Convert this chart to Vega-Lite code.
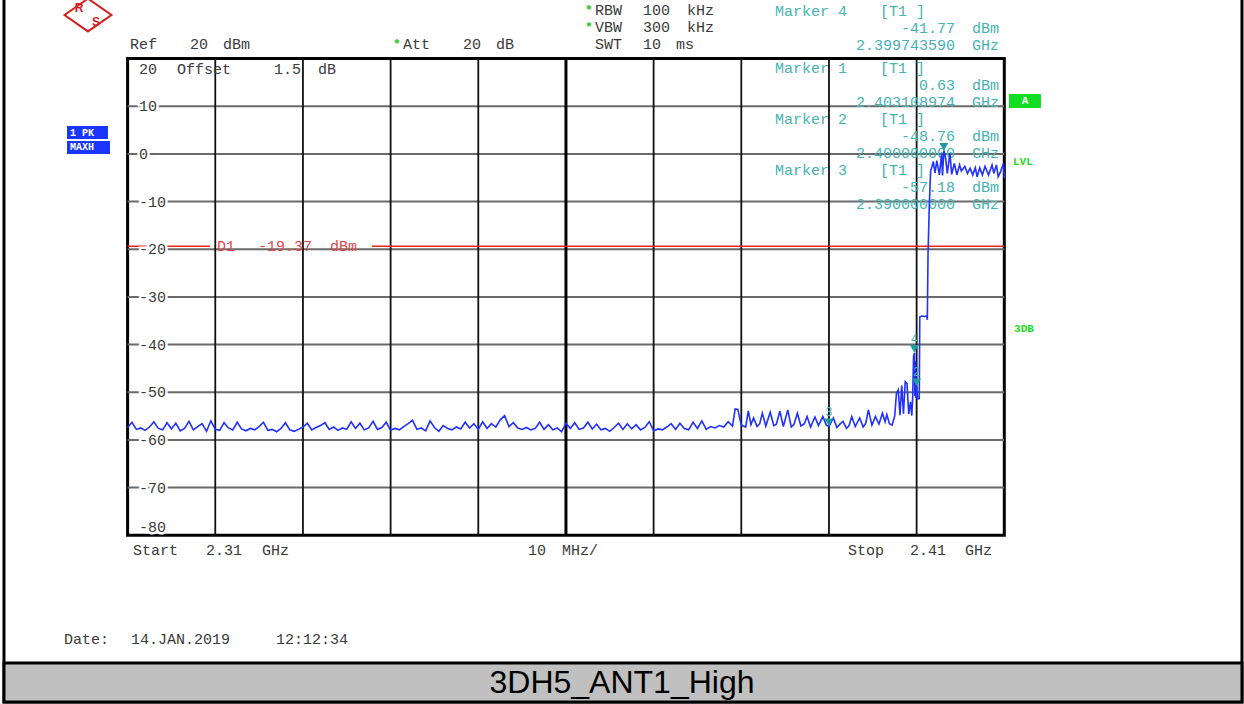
{
"$schema": "https://vega.github.io/schema/vega-lite/v6.json",
"width": 876.7, "height": 476.6,
"autosize": {"type": "none"},
"padding": {"left": 127.6, "top": 58.6, "right": 239.7, "bottom": 168.8},
"background": "white",
"config": {
  "view": {"stroke": "#000000", "strokeWidth": 3},
  "text": {"font": "Liberation Mono", "fontSize": 15, "baseline": "middle", "align": "left"}
},
"encoding": {
  "x": {"field": "f", "type": "quantitative", "scale": {"domain": [2310, 2410], "nice": false, "zero": false}, "axis": null},
  "y": {"field": "p", "type": "quantitative", "scale": {"domain": [-80, 20], "nice": false, "zero": false}, "axis": null}
},
"datasets": {
  "frame": [{"f": 2295.9, "f2": 2437.11, "p": -115.0, "p2": 34}],
  "band": [{"f": 2295.9, "f2": 2437.11, "p": -115.0, "p2": -106.81}],
  "caption": [{"t": "3DH5_ANT1_High", "f": 2366.39, "p": -111.0}],
  "hgrid": [{"f": 2310, "f2": 2410, "p": 10}, {"f": 2310, "f2": 2410, "p": 0}, {"f": 2310, "f2": 2410, "p": -10}, {"f": 2310, "f2": 2410, "p": -20}, {"f": 2310, "f2": 2410, "p": -30}, {"f": 2310, "f2": 2410, "p": -40}, {"f": 2310, "f2": 2410, "p": -50}, {"f": 2310, "f2": 2410, "p": -60}, {"f": 2310, "f2": 2410, "p": -70}],
  "vgrid": [{"f": 2320, "p": -80, "p2": 20}, {"f": 2330, "p": -80, "p2": 20}, {"f": 2340, "p": -80, "p2": 20}, {"f": 2350, "p": -80, "p2": 20}, {"f": 2370, "p": -80, "p2": 20}, {"f": 2380, "p": -80, "p2": 20}, {"f": 2390, "p": -80, "p2": 20}, {"f": 2400, "p": -80, "p2": 20}],
  "vcenter": [{"f": 2360, "p": -80, "p2": 20}],
  "d1line": [{"f": 2310, "f2": 2319.4, "p": -19.37}, {"f": 2337.88, "f2": 2410, "p": -19.37}],
  "d1text": [{"t": "D1", "f": 2320.19, "p": -19.37}, {"t": "-19.37", "f": 2324.87, "p": -19.37}, {"t": "dBm", "f": 2333.09, "p": -19.37}],
  "ylab": [{"t": "20", "f": 2311.3, "p": 17.82}, {"t": "10", "f": 2311.3, "p": 10}, {"t": "0", "f": 2311.3, "p": 0}, {"t": "-10", "f": 2311.3, "p": -10}, {"t": "-20", "f": 2311.3, "p": -20}, {"t": "-30", "f": 2311.3, "p": -30}, {"t": "-40", "f": 2311.3, "p": -40}, {"t": "-50", "f": 2311.3, "p": -50}, {"t": "-60", "f": 2311.3, "p": -60}, {"t": "-70", "f": 2311.3, "p": -70}, {"t": "-80", "f": 2311.3, "p": -78.28}],
  "hdr": [
    {"t": "Ref", "f": 2310.27, "p": 23.06}, {"t": "20", "f": 2317.12, "p": 23.06}, {"t": "dBm", "f": 2320.88, "p": 23.06},
    {"t": "Att", "f": 2341.41, "p": 23.06}, {"t": "20", "f": 2348.26, "p": 23.06}, {"t": "dB", "f": 2352.02, "p": 23.06},
    {"t": "RBW", "f": 2363.31, "p": 30.2}, {"t": "100", "f": 2368.79, "p": 30.2}, {"t": "kHz", "f": 2373.81, "p": 30.2},
    {"t": "VBW", "f": 2363.31, "p": 26.63}, {"t": "300", "f": 2368.79, "p": 26.63}, {"t": "kHz", "f": 2373.81, "p": 26.63},
    {"t": "SWT", "f": 2363.31, "p": 23.06}, {"t": "10", "f": 2368.79, "p": 23.06}, {"t": "ms", "f": 2372.55, "p": 23.06},
    {"t": "Offset", "f": 2315.63, "p": 17.82}, {"t": "1.5", "f": 2326.7, "p": 17.82}, {"t": "dB", "f": 2331.72, "p": 17.82},
    {"t": "Start", "f": 2310.62, "p": -83.1}, {"t": "2.31", "f": 2318.94, "p": -83.1}, {"t": "GHz", "f": 2325.33, "p": -83.1},
    {"t": "10", "f": 2355.67, "p": -83.1}, {"t": "MHz/", "f": 2359.55, "p": -83.1},
    {"t": "Stop", "f": 2392.17, "p": -83.1}, {"t": "2.41", "f": 2399.24, "p": -83.1}, {"t": "GHz", "f": 2405.52, "p": -83.1},
    {"t": "Date:", "f": 2302.75, "p": -101.78}, {"t": "14.JAN.2019", "f": 2310.39, "p": -101.78}, {"t": "12:12:34", "f": 2326.93, "p": -101.78}
  ],
  "stars": [{"t": "*", "f": 2362.17, "p": 30.2}, {"t": "*", "f": 2362.17, "p": 26.63}, {"t": "*", "f": 2340.27, "p": 23.06}],
  "tealL": [
    {"t": "Marker 4", "f": 2383.85, "p": 29.99}, {"t": "[T1 ]", "f": 2395.82, "p": 29.99},
    {"t": "Marker 1", "f": 2383.85, "p": 18.03}, {"t": "[T1 ]", "f": 2395.82, "p": 18.03},
    {"t": "Marker 2", "f": 2383.85, "p": 7.33}, {"t": "[T1 ]", "f": 2395.82, "p": 7.33},
    {"t": "Marker 3", "f": 2383.85, "p": -3.37}, {"t": "[T1 ]", "f": 2395.82, "p": -3.37}
  ],
  "tealR": [
    {"t": "-41.77", "f": 2404.38, "p": 26.42}, {"t": "dBm", "f": 2409.4, "p": 26.42},
    {"t": "2.399743590", "f": 2404.38, "p": 22.85}, {"t": "GHz", "f": 2409.4, "p": 22.85},
    {"t": "0.63", "f": 2404.38, "p": 14.46}, {"t": "dBm", "f": 2409.4, "p": 14.46},
    {"t": "2.403108974", "f": 2404.38, "p": 10.89}, {"t": "GHz", "f": 2409.4, "p": 10.89},
    {"t": "-48.76", "f": 2404.38, "p": 3.76}, {"t": "dBm", "f": 2409.4, "p": 3.76},
    {"t": "2.400000000", "f": 2404.38, "p": 0.19}, {"t": "GHz", "f": 2409.4, "p": 0.19},
    {"t": "-57.18", "f": 2404.38, "p": -6.94}, {"t": "dBm", "f": 2409.4, "p": -6.94},
    {"t": "2.390000000", "f": 2404.38, "p": -10.51}, {"t": "GHz", "f": 2409.4, "p": -10.51}
  ],
  "greenTxt": [{"t": "LVL", "f": 2410.99, "p": -1.7}, {"t": "3DB", "f": 2411.11, "p": -36.74}],
  "abox": [{"f": 2410.53, "f2": 2414.18, "p": 12.57, "p2": 9.63}],
  "atext": [{"t": "A", "f": 2412.36, "p": 11.1}],
  "bbox": [{"f": 2303.09, "f2": 2307.76, "p": 5.86, "p2": 3.13}, {"f": 2303.09, "f2": 2307.99, "p": 2.71, "p2": -0.02}],
  "btext": [{"t": "1 PK", "f": 2303.43, "p": 4.49}, {"t": "MAXH", "f": 2303.43, "p": 1.35}],
  "logo": [{"f": 2305.48, "p": 29.15}],
  "logotext": [{"t": "R", "f": 2304.46, "p": 30.62}, {"t": "S", "f": 2306.4, "p": 27.68}],
  "markers": [{"m": "1", "f": 2403.109, "p": 0.63}, {"m": "2", "f": 2400.0, "p": -48.76}, {"m": "3", "f": 2390.0, "p": -57.18}, {"m": "4", "f": 2399.744, "p": -41.77}],
  "trace": [
    {"f":2310.0,"p":-57.4},{"f":2310.5,"p":-56.3},{"f":2311.0,"p":-57.8},{"f":2311.5,"p":-57.5},{"f":2312.0,"p":-58.0},{"f":2312.5,"p":-57.3},
    {"f":2313.0,"p":-56.2},{"f":2313.5,"p":-57.6},{"f":2314.0,"p":-57.9},{"f":2314.5,"p":-56.4},{"f":2315.0,"p":-57.7},{"f":2315.5,"p":-56.5},
    {"f":2316.0,"p":-58.1},{"f":2316.5,"p":-57.6},{"f":2317.0,"p":-56.1},{"f":2317.5,"p":-57.9},{"f":2318.0,"p":-57.2},{"f":2318.5,"p":-56.6},
    {"f":2319.0,"p":-58.2},{"f":2319.5,"p":-56.0},{"f":2320.0,"p":-57.8},{"f":2320.5,"p":-58.0},{"f":2321.0,"p":-56.4},{"f":2321.5,"p":-57.5},
    {"f":2322.0,"p":-57.9},{"f":2322.5,"p":-56.3},{"f":2323.0,"p":-57.7},{"f":2323.5,"p":-58.1},{"f":2324.0,"p":-57.6},{"f":2324.5,"p":-57.9},
    {"f":2325.0,"p":-57.2},{"f":2325.5,"p":-56.3},{"f":2326.0,"p":-58.0},{"f":2326.5,"p":-57.8},{"f":2327.0,"p":-58.3},{"f":2327.5,"p":-57.6},
    {"f":2328.0,"p":-56.4},{"f":2328.5,"p":-57.9},{"f":2329.0,"p":-58.2},{"f":2329.5,"p":-57.8},{"f":2330.0,"p":-57.3},{"f":2330.5,"p":-56.5},
    {"f":2331.0,"p":-57.9},{"f":2331.5,"p":-57.4},{"f":2332.0,"p":-57.0},{"f":2332.5,"p":-56.4},{"f":2333.0,"p":-57.8},{"f":2333.5,"p":-57.3},
    {"f":2334.0,"p":-58.0},{"f":2334.5,"p":-57.5},{"f":2335.0,"p":-57.8},{"f":2335.5,"p":-56.2},{"f":2336.0,"p":-57.6},{"f":2336.5,"p":-56.5},
    {"f":2337.0,"p":-57.9},{"f":2337.5,"p":-57.5},{"f":2338.0,"p":-56.1},{"f":2338.5,"p":-57.8},{"f":2339.0,"p":-57.4},{"f":2339.5,"p":-56.3},
    {"f":2340.0,"p":-58.0},{"f":2340.5,"p":-57.6},{"f":2341.0,"p":-57.9},{"f":2341.5,"p":-57.2},{"f":2342.0,"p":-56.6},{"f":2342.5,"p":-55.9},
    {"f":2343.0,"p":-57.8},{"f":2343.5,"p":-57.5},{"f":2344.0,"p":-58.1},{"f":2344.5,"p":-56.0},{"f":2345.0,"p":-57.4},{"f":2345.5,"p":-58.2},
    {"f":2346.0,"p":-57.0},{"f":2346.5,"p":-57.6},{"f":2347.0,"p":-57.9},{"f":2347.5,"p":-57.3},{"f":2348.0,"p":-57.7},{"f":2348.5,"p":-56.3},
    {"f":2349.0,"p":-57.5},{"f":2349.5,"p":-56.6},{"f":2350.0,"p":-57.8},{"f":2350.5,"p":-56.2},{"f":2351.0,"p":-57.6},{"f":2351.5,"p":-56.6},
    {"f":2352.0,"p":-57.3},{"f":2352.5,"p":-55.8},{"f":2353.0,"p":-54.9},{"f":2353.5,"p":-57.2},{"f":2354.0,"p":-56.4},{"f":2354.5,"p":-57.5},
    {"f":2355.0,"p":-57.8},{"f":2355.5,"p":-57.4},{"f":2356.0,"p":-57.9},{"f":2356.5,"p":-57.6},{"f":2357.0,"p":-56.3},{"f":2357.5,"p":-57.8},
    {"f":2358.0,"p":-56.8},{"f":2358.5,"p":-57.9},{"f":2359.0,"p":-57.5},{"f":2359.5,"p":-58.3},{"f":2360.0,"p":-56.5},{"f":2360.5,"p":-57.6},
    {"f":2361.0,"p":-56.4},{"f":2361.5,"p":-57.8},{"f":2362.0,"p":-57.5},{"f":2362.5,"p":-56.3},{"f":2363.0,"p":-57.7},{"f":2363.5,"p":-56.7},
    {"f":2364.0,"p":-57.9},{"f":2364.5,"p":-57.6},{"f":2365.0,"p":-58.2},{"f":2365.5,"p":-57.4},{"f":2366.0,"p":-56.5},{"f":2366.5,"p":-57.8},
    {"f":2367.0,"p":-56.6},{"f":2367.5,"p":-57.7},{"f":2368.0,"p":-56.8},{"f":2368.5,"p":-57.9},{"f":2369.0,"p":-57.4},{"f":2369.5,"p":-56.2},
    {"f":2370.0,"p":-58.1},{"f":2370.5,"p":-57.7},{"f":2371.0,"p":-57.9},{"f":2371.5,"p":-57.3},{"f":2372.0,"p":-56.6},{"f":2372.5,"p":-57.8},
    {"f":2373.0,"p":-56.5},{"f":2373.5,"p":-57.6},{"f":2374.0,"p":-57.9},{"f":2374.5,"p":-56.3},{"f":2375.0,"p":-57.6},{"f":2375.5,"p":-56.0},
    {"f":2376.0,"p":-57.8},{"f":2376.5,"p":-57.2},{"f":2377.0,"p":-57.5},{"f":2377.5,"p":-57.0},{"f":2378.0,"p":-57.3},{"f":2378.5,"p":-56.2},
    {"f":2379.0,"p":-57.1},{"f":2379.3,"p":-53.5},{"f":2379.6,"p":-53.6},{"f":2380.0,"p":-56.9},{"f":2380.5,"p":-57.3},{"f":2380.8,"p":-53.9},
    {"f":2381.1,"p":-56.8},{"f":2381.4,"p":-55.4},{"f":2381.8,"p":-57.2},{"f":2382.1,"p":-56.6},{"f":2382.4,"p":-54.4},{"f":2382.8,"p":-57.1},
    {"f":2383.3,"p":-54.2},{"f":2383.7,"p":-57.0},{"f":2384.0,"p":-56.7},{"f":2384.4,"p":-54.0},{"f":2384.8,"p":-57.2},{"f":2385.3,"p":-53.7},
    {"f":2385.7,"p":-57.3},{"f":2386.0,"p":-56.8},{"f":2386.4,"p":-54.4},{"f":2386.8,"p":-57.1},{"f":2387.2,"p":-56.6},{"f":2387.5,"p":-55.1},
    {"f":2387.9,"p":-57.3},{"f":2388.4,"p":-55.2},{"f":2388.8,"p":-57.0},{"f":2389.3,"p":-55.1},{"f":2389.7,"p":-56.9},{"f":2390.0,"p":-57.18},
    {"f":2390.5,"p":-55.4},{"f":2390.9,"p":-57.4},{"f":2391.2,"p":-56.8},{"f":2391.6,"p":-56.1},{"f":2392.0,"p":-57.6},{"f":2392.3,"p":-57.0},
    {"f":2392.6,"p":-55.1},{"f":2393.0,"p":-57.2},{"f":2393.5,"p":-55.4},{"f":2393.9,"p":-57.3},{"f":2394.2,"p":-56.5},{"f":2394.5,"p":-53.7},
    {"f":2394.9,"p":-56.9},{"f":2395.3,"p":-55.1},{"f":2395.7,"p":-56.7},{"f":2396.1,"p":-54.4},{"f":2396.4,"p":-56.2},{"f":2396.6,"p":-54.7},
    {"f":2396.9,"p":-56.6},{"f":2397.2,"p":-56.9},{"f":2397.5,"p":-55.0},{"f":2397.7,"p":-50.2},{"f":2397.9,"p":-49.5},{"f":2398.1,"p":-54.8},
    {"f":2398.3,"p":-48.6},{"f":2398.5,"p":-54.5},{"f":2398.7,"p":-47.8},{"f":2398.9,"p":-48.2},{"f":2399.1,"p":-54.6},{"f":2399.3,"p":-52.0},
    {"f":2399.45,"p":-54.9},{"f":2399.55,"p":-51.0},{"f":2399.65,"p":-42.5},{"f":2399.744,"p":-41.77},{"f":2399.8,"p":-50.8},{"f":2399.87,"p":-43.5},
    {"f":2399.93,"p":-51.2},{"f":2400.0,"p":-48.76},{"f":2400.1,"p":-51.3},{"f":2400.2,"p":-51.4},{"f":2400.3,"p":-51.3},{"f":2400.36,"p":-34.2},
    {"f":2400.6,"p":-34.0},{"f":2400.9,"p":-34.1},{"f":2401.15,"p":-34.0},{"f":2401.22,"p":-34.8},{"f":2401.3,"p":-21.0},{"f":2401.45,"p":-10.5},
    {"f":2401.6,"p":-3.5},{"f":2401.75,"p":-2.7},{"f":2401.9,"p":-1.6},{"f":2402.1,"p":-4.0},{"f":2402.3,"p":-1.4},{"f":2402.6,"p":-4.4},
    {"f":2402.85,"p":0.1},{"f":2402.95,"p":-4.5},{"f":2403.109,"p":0.63},{"f":2403.3,"p":-0.8},{"f":2403.5,"p":-4.1},{"f":2403.8,"p":0.1},
    {"f":2404.0,"p":-4.3},{"f":2404.3,"p":-2.0},{"f":2404.6,"p":-4.4},{"f":2404.9,"p":-2.3},{"f":2405.1,"p":-3.6},{"f":2405.5,"p":-2.6},
    {"f":2405.8,"p":-4.1},{"f":2406.1,"p":-3.0},{"f":2406.4,"p":-4.4},{"f":2406.7,"p":-2.9},{"f":2406.9,"p":-4.8},{"f":2407.2,"p":-2.9},
    {"f":2407.5,"p":-4.4},{"f":2407.8,"p":-2.6},{"f":2408.2,"p":-4.4},{"f":2408.6,"p":-2.3},{"f":2408.8,"p":-4.1},{"f":2409.1,"p":-2.3},
    {"f":2409.3,"p":-4.8},{"f":2409.6,"p":-3.6},{"f":2409.9,"p":-2.0},{"f":2410.0,"p":-5.1}
  ]
},
"layer": [
  {"data": {"name": "frame"}, "mark": {"type": "rect", "fill": null, "fillOpacity": 0, "stroke": "#000000", "strokeWidth": 3},
   "encoding": {"x2": {"field": "f2"}, "y2": {"field": "p2"}}},
  {"data": {"name": "band"}, "mark": {"type": "rect", "fill": "#c0c0c0", "stroke": "#000000", "strokeWidth": 3},
   "encoding": {"x2": {"field": "f2"}, "y2": {"field": "p2"}}},
  {"data": {"name": "caption"}, "mark": {"type": "text", "font": "Liberation Sans", "fontSize": 32, "align": "center", "color": "#000000"},
   "encoding": {"text": {"field": "t"}}},
  {"data": {"name": "hgrid"}, "mark": {"type": "rule", "color": "#6a6a6a", "strokeWidth": 2},
   "encoding": {"x2": {"field": "f2"}}},
  {"data": {"name": "vgrid"}, "mark": {"type": "rule", "color": "#111111", "strokeWidth": 1.8},
   "encoding": {"y2": {"field": "p2"}}},
  {"data": {"name": "vcenter"}, "mark": {"type": "rule", "color": "#000000", "strokeWidth": 3},
   "encoding": {"y2": {"field": "p2"}}},
  {"data": {"name": "d1line"}, "mark": {"type": "rule", "color": "#ee2222", "strokeWidth": 1.6},
   "encoding": {"x2": {"field": "f2"}}},
  {"data": {"name": "d1text"}, "mark": {"type": "text", "color": "#e04848"},
   "encoding": {"text": {"field": "t"}}},
  {"data": {"name": "ylab"}, "mark": {"type": "text", "color": "#ffffff", "stroke": "#ffffff", "strokeWidth": 5},
   "encoding": {"text": {"field": "t"}}},
  {"data": {"name": "ylab"}, "mark": {"type": "text", "color": "#3a3a3a"},
   "encoding": {"text": {"field": "t"}}},
  {"data": {"name": "hdr"}, "mark": {"type": "text", "color": "#3a3a3a"},
   "encoding": {"text": {"field": "t"}}},
  {"data": {"name": "stars"}, "mark": {"type": "text", "color": "#22c822", "fontWeight": "bold", "fontSize": 13},
   "encoding": {"text": {"field": "t"}}},
  {"data": {"name": "tealL"}, "mark": {"type": "text", "color": "#45b3b3"},
   "encoding": {"text": {"field": "t"}}},
  {"data": {"name": "tealR"}, "mark": {"type": "text", "color": "#45b3b3", "align": "right"},
   "encoding": {"text": {"field": "t"}}},
  {"data": {"name": "greenTxt"}, "mark": {"type": "text", "color": "#22dd22", "fontWeight": "bold", "fontSize": 11},
   "encoding": {"text": {"field": "t"}}},
  {"data": {"name": "abox"}, "mark": {"type": "rect", "color": "#11dd22"},
   "encoding": {"x2": {"field": "f2"}, "y2": {"field": "p2"}}},
  {"data": {"name": "atext"}, "mark": {"type": "text", "color": "#ffffff", "fontWeight": "bold", "fontSize": 11, "align": "center"},
   "encoding": {"text": {"field": "t"}}},
  {"data": {"name": "bbox"}, "mark": {"type": "rect", "color": "#1a35ff"},
   "encoding": {"x2": {"field": "f2"}, "y2": {"field": "p2"}}},
  {"data": {"name": "btext"}, "mark": {"type": "text", "color": "#ffffff", "fontWeight": "bold", "fontSize": 10},
   "encoding": {"text": {"field": "t"}}},
  {"data": {"name": "logo"}, "mark": {"type": "point", "shape": "M -1 0 L 0 -0.7 L 1 0 L 0 0.7 Z", "size": 2200, "filled": false, "stroke": "#d02020", "strokeWidth": 2, "opacity": 1}},
  {"data": {"name": "logotext"}, "mark": {"type": "text", "color": "#d02020", "font": "Liberation Sans", "fontWeight": "bold", "fontSize": 12, "align": "center"},
   "encoding": {"text": {"field": "t"}}},
  {"data": {"name": "trace"}, "mark": {"type": "line", "color": "#1f30ff", "strokeWidth": 1.6}},
  {"data": {"name": "markers"}, "mark": {"type": "point", "shape": "triangle-down", "filled": true, "size": 80, "color": "#1c9d9a", "opacity": 1, "yOffset": -4}},
  {"data": {"name": "markers"}, "transform": [{"filter": "datum.m != '1'"}], "mark": {"type": "text", "color": "#45b3b3", "fontSize": 12, "align": "center", "dy": -14},
   "encoding": {"text": {"field": "m"}}}
]
}
